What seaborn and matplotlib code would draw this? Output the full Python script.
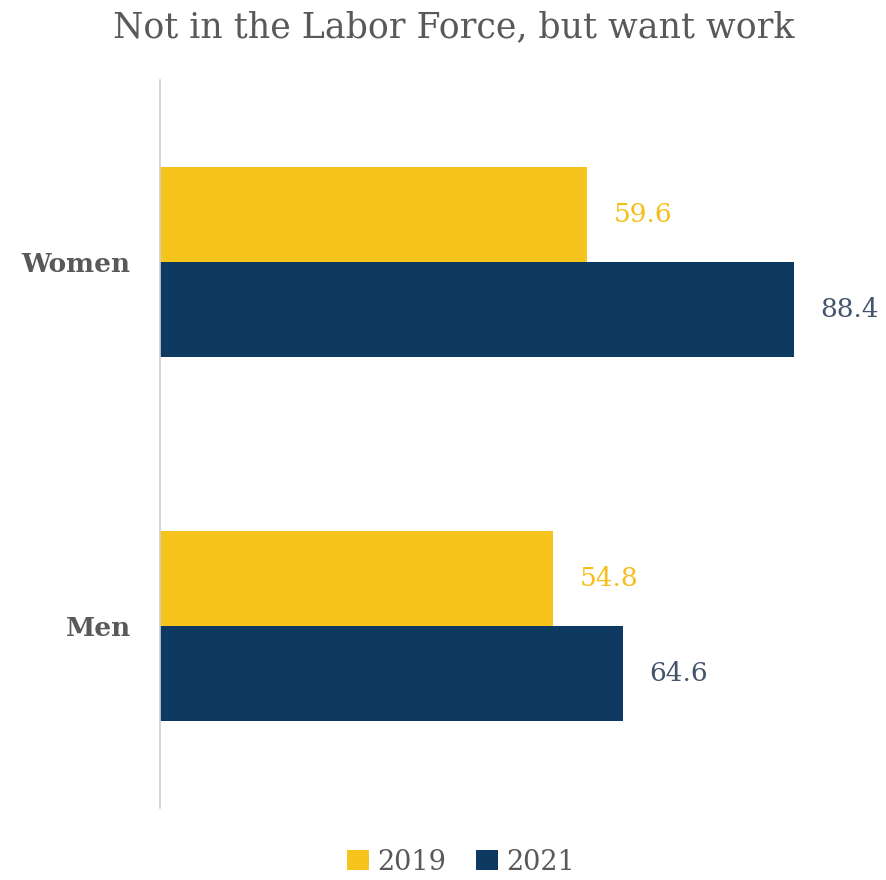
import matplotlib
matplotlib.use("Agg")
import matplotlib.pyplot as plt
import seaborn as sns
import pandas as pd

groups = ["Women", "Men"]
years = ["2019", "2021"]
values_2019 = [59.6, 54.8]
values_2021 = [88.4, 64.6]
colors = ["#F7C41E", "#0E3A61"]
label_colors = ["#F5BE1A", "#44546A"]

df = pd.DataFrame({
    "group": groups * 2,
    "year": [years[0]] * 2 + [years[1]] * 2,
    "value": values_2019 + values_2021,
})

sns.set_theme(style="white")
plt.rcParams["font.family"] = ["DejaVu Serif"]

fig = plt.figure(figsize=(8.86, 8.80), dpi=100)
ax = fig.add_axes([160 / 886, 1 - 808 / 880, (877 - 160) / 886, 728 / 880])

sns.barplot(data=df, y="group", x="value", hue="year", order=groups,
            hue_order=years, palette=colors, orient="h", width=0.522,
            saturation=1, linewidth=0, ax=ax, legend=True)

ax.set_xlim(0, 100)
ax.set_ylim(1.5, -0.5)
ax.set_xlabel("")
ax.set_ylabel("")
ax.set_xticks([])
for side in ["top", "right", "bottom"]:
    ax.spines[side].set_visible(False)
ax.spines["left"].set_color("#D0D0D0")
ax.spines["left"].set_linewidth(1.2)
ax.tick_params(axis="y", length=0, pad=21)
for t in ax.get_yticklabels():
    t.set_fontsize(19)
    t.set_color("#595959")
    t.set_fontweight("bold")

for container, col in zip(ax.containers, label_colors):
    ax.bar_label(container, fmt="%.1f", padding=19, fontsize=19, color=col)

handles, labels = ax.get_legend_handles_labels()
ax.legend_.remove()
fig.legend(handles, labels, loc="center", bbox_to_anchor=(461 / 886, 1 - 862 / 880),
           ncol=2, frameon=False, fontsize=19.5, handlelength=0.8, handleheight=0.8,
           handletextpad=0.3, columnspacing=1.1, labelcolor="#595959")

fig.text(454 / 886, 1 - 27 / 880, "Not in the Labor Force, but want work",
         ha="center", va="center", fontsize=25, color="#595959")

fig.savefig("out.png", dpi=100, facecolor="white")
